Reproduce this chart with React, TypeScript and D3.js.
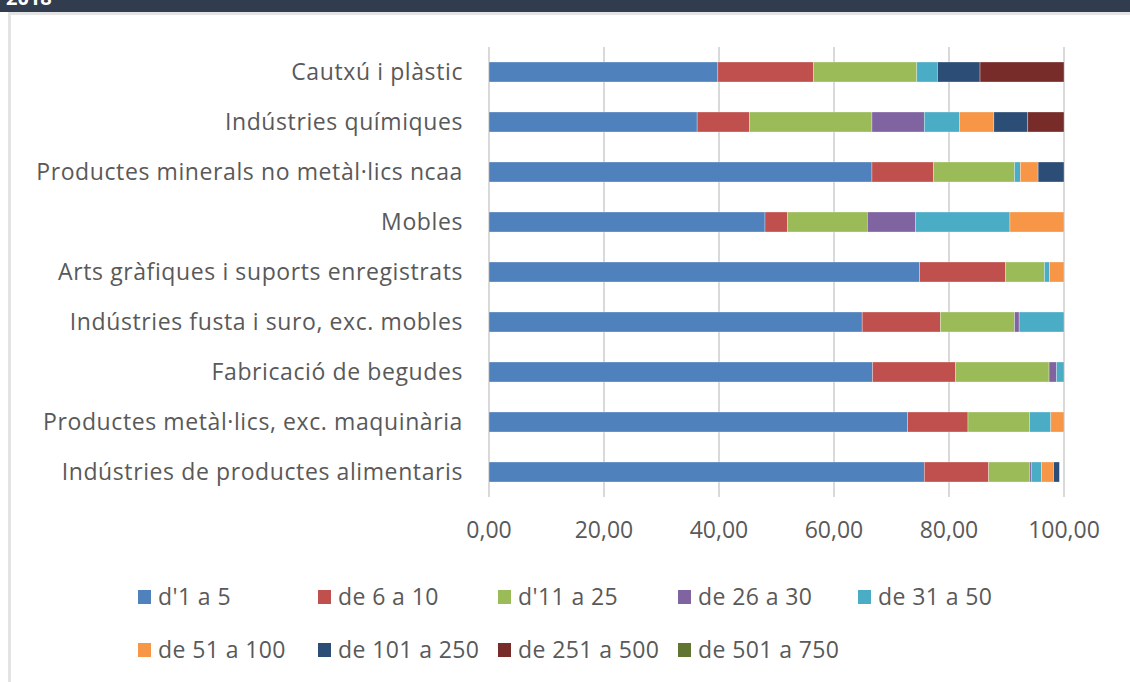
import { useRef, useEffect } from 'react';
import * as d3 from 'd3';

const categories = [
  'Cautxú i plàstic',
  'Indústries químiques',
  'Productes minerals no metàl·lics ncaa',
  'Mobles',
  'Arts gràfiques i suports enregistrats',
  'Indústries fusta i suro, exc. mobles',
  'Fabricació de begudes',
  'Productes metàl·lics, exc. maquinària ',
  'Indústries de productes alimentaris',
];

const seriesNames = [
  "d'1 a 5",
  'de 6 a 10',
  "d'11 a 25",
  'de 26 a 30',
  'de 31 a 50',
  'de 51 a 100',
  'de 101 a 250',
  'de 251 a 500',
  'de 501 a 750',
];

const seriesColors = ['#4f81bd', '#c0504d', '#9bbb59', '#8064a2', '#4bacc6', '#f79646', '#2c4d75', '#772c2a', '#5f7530'];

// one array per size band, in the order of categories
const d1a5 = [39.8, 36.2, 66.6, 48.0, 74.9, 64.9, 66.7, 72.8, 75.7];
const de6a10 = [16.6, 9.1, 10.7, 3.9, 14.9, 13.6, 14.4, 10.5, 11.2];
const d11a25 = [18.0, 21.3, 14.1, 13.9, 6.8, 12.9, 16.3, 10.7, 7.1];
const de26a30 = [0, 9.1, 0, 8.4, 0, 0.8, 1.3, 0, 0.3];
const de31a50 = [3.6, 6.1, 1.0, 16.4, 0.9, 7.8, 1.3, 3.7, 1.8];
const de51a100 = [0, 6.0, 3.1, 9.4, 2.5, 0, 0, 2.3, 2.1];
const de101a250 = [7.4, 5.9, 4.5, 0, 0, 0, 0, 0, 1.0];
const de251a500 = [14.6, 6.3, 0, 0, 0, 0, 0, 0, 0];
const de501a750 = [0, 0, 0, 0, 0, 0, 0, 0, 0];

const xTicks = [0, 20, 40, 60, 80, 100];

const W = 1130;
const H = 682;
const FONT = "'Open Sans', sans-serif";
const TEXT_COLOR = '#595959';

export default function App() {
  const svgRef = useRef<SVGSVGElement>(null);

  useEffect(() => {
    if (!svgRef.current) return;
    const svg = d3.select(svgRef.current);
    svg.selectAll('*').remove();

    const values = [d1a5, de6a10, d11a25, de26a30, de31a50, de51a100, de101a250, de251a500, de501a750];
    const rows = categories.map((c, i) => {
      const r: any = { cat: c };
      seriesNames.forEach((s, j) => (r[s] = values[j][i]));
      return r;
    });

    // frame + header band (title "2018" is cut off at the top, as in the source)
    svg.append('rect').attr('width', W).attr('height', H).attr('fill', '#fff');
    svg.append('rect').attr('x', 0).attr('y', 0).attr('width', W).attr('height', 12).attr('fill', '#323c4f');
    svg.append('text')
      .attr('x', 6).attr('y', 5)
      .attr('fill', '#fff')
      .attr('font-family', FONT)
      .attr('font-weight', 'bold')
      .attr('font-size', 20)
      .text('2018');
    svg.append('rect').attr('x', 8).attr('y', 12).attr('width', W - 8).attr('height', 3).attr('fill', '#e3e3e3');
    svg.append('rect').attr('x', 8).attr('y', 12).attr('width', 3).attr('height', H - 12).attr('fill', '#e3e3e3');

    const x = d3.scaleLinear().domain([0, 100]).range([489, 1064]);
    const y = d3.scaleBand().domain(categories).range([47, 497]).paddingInner(0.6).paddingOuter(0.3);

    // gridlines
    svg.append('g')
      .selectAll('line')
      .data(xTicks)
      .join('line')
      .attr('x1', d => x(d)).attr('x2', d => x(d))
      .attr('y1', 47).attr('y2', 497)
      .attr('stroke', '#d9d9d9')
      .attr('stroke-width', 2);

    const stack = d3.stack<any>().keys(seriesNames)(rows);

    svg.append('g')
      .selectAll('g')
      .data(stack)
      .join('g')
      .attr('fill', (_, i) => seriesColors[i])
      .selectAll('rect')
      .data(d => d.filter(p => p[1] - p[0] > 0))
      .join('rect')
      .attr('x', d => x(d[0]))
      .attr('width', d => x(d[1]) - x(d[0]))
      .attr('y', d => y(d.data.cat)!)
      .attr('height', y.bandwidth())
      .attr('stroke', '#ffffff')
      .attr('stroke-opacity', 0.5)
      .attr('stroke-width', 0.6);

    // category labels
    svg.append('g')
      .selectAll('text')
      .data(categories)
      .join('text')
      .attr('x', 463)
      .attr('y', d => y(d)! + y.bandwidth() / 2)
      .attr('dy', '0.35em')
      .attr('text-anchor', 'end')
      .attr('font-family', FONT)
      .attr('font-size', 23)
      .attr('letter-spacing', 0.6)
      .attr('fill', TEXT_COLOR)
      .text(d => d);

    // x tick labels
    svg.append('g')
      .selectAll('text')
      .data(xTicks)
      .join('text')
      .attr('x', d => x(d))
      .attr('y', 538)
      .attr('text-anchor', 'middle')
      .attr('font-family', FONT)
      .attr('font-size', 23)
      .attr('fill', TEXT_COLOR)
      .text(d => d3.format('.2f')(d).replace('.', ','));

    // legend
    const legend = svg.append('g');
    seriesNames.forEach((s, i) => {
      const row = i < 5 ? 0 : 1;
      const col = i < 5 ? i : i - 5;
      const lx = 138 + col * 180;
      const ly = 597 + row * 53;
      const g = legend.append('g').attr('transform', `translate(${lx},${ly})`);
      g.append('rect').attr('x', 0).attr('y', -7).attr('width', 13).attr('height', 14).attr('fill', seriesColors[i]);
      g.append('text')
        .attr('x', 20)
        .attr('y', 0)
        .attr('dy', '0.35em')
        .attr('font-family', FONT)
        .attr('font-size', 23)
        .attr('letter-spacing', 0.4)
        .attr('fill', TEXT_COLOR)
        .text(s);
    });
  }, []);

  return (
    <svg
      ref={svgRef}
      width={W}
      height={H}
      style={{ position: 'absolute', left: 0, top: 0 }}
    />
  );
}
